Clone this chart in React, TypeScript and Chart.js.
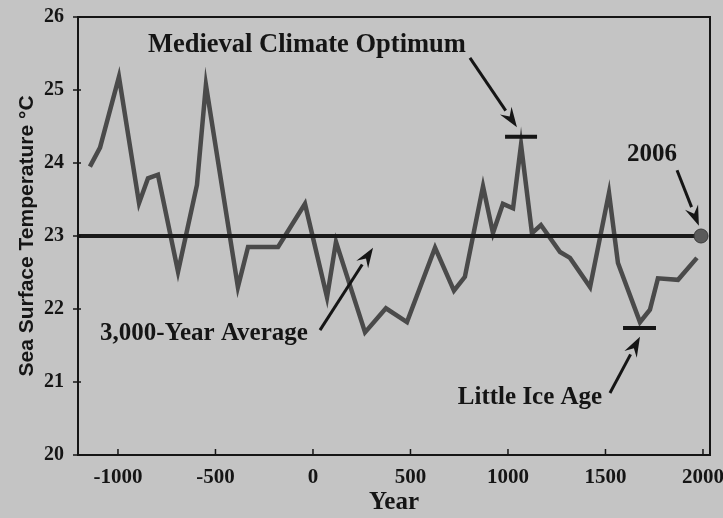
import React, { useEffect, useRef } from "react";
import { Chart, registerables } from "chart.js";

Chart.register(...registerables);

// ---- data ----
const years = [
  -1144, -1092, -995, -892, -846, -795, -692, -595, -549, -385, -333, -179, -41,
  72, 118, 267, 374, 482, 626, 723, 779, 872, 923, 974, 1026, 1067, 1123, 1169,
  1267, 1318, 1421, 1518, 1564, 1677, 1728, 1769, 1872, 1969,
];
const temps = [
  23.95, 24.21, 25.18, 23.45, 23.79, 23.84, 22.51, 23.7, 25.07, 22.3, 22.85, 22.85, 23.44,
  22.16, 22.92, 21.68, 22.01, 21.82, 22.84, 22.25, 22.44, 23.68, 23.04, 23.44, 23.38, 24.25,
  23.04, 23.15, 22.78, 22.7, 22.3, 23.59, 22.63, 21.82, 21.99, 22.42, 22.4, 22.7,
];
const averageTemp = 23.0;
const markerYear = 1990;
const markerTemp = 23.0;
const xTickValues = [-1000, -500, 0, 500, 1000, 1500, 2000];
const yTickValues = [20, 21, 22, 23, 24, 25, 26];
const xMin = -1205;
const xMax = 2036;
const yMin = 20;
const yMax = 26;

// annotation anchors in data coordinates
const medievalLabel = { text: "Medieval Climate Optimum", x: -31, y: 25.62 };
const medievalArrow = { x1: 805, y1: 25.44, x2: 1046, y2: 24.49 };
const medievalBar = { x1: 985, x2: 1149, y: 24.36 };
const yearLabel = { text: "2006", x: 1738, y: 24.11 };
const yearArrow = { x1: 1867, y1: 23.9, x2: 1979, y2: 23.14 };
const averageLabel = { text: "3,000-Year Average", x: -559, y: 21.67 };
const averageArrow = { x1: 36, y1: 21.71, x2: 308, y2: 22.84 };
const iceLabel = { text: "Little Ice Age", x: 1113, y: 20.79 };
const iceArrow = { x1: 1523, y1: 20.85, x2: 1677, y2: 21.62 };
const iceBar = { x1: 1590, x2: 1759, y: 21.74 };

const SERIF = "'Liberation Serif', 'Times New Roman', serif";
const SANS = "'Liberation Sans', Arial, sans-serif";
const INK = "#151515";

function drawArrow(ctx: CanvasRenderingContext2D, x1: number, y1: number, x2: number, y2: number) {
  const ang = Math.atan2(y2 - y1, x2 - x1);
  const headLen = 20;
  const headW = 7;
  const bx = x2 - headLen * Math.cos(ang);
  const by = y2 - headLen * Math.sin(ang);
  ctx.save();
  ctx.strokeStyle = INK;
  ctx.fillStyle = INK;
  ctx.lineWidth = 3;
  ctx.beginPath();
  ctx.moveTo(x1, y1);
  ctx.lineTo(bx, by);
  ctx.stroke();
  ctx.beginPath();
  ctx.moveTo(x2, y2);
  ctx.lineTo(bx + headW * Math.sin(ang), by - headW * Math.cos(ang));
  ctx.lineTo(bx + 0.35 * headLen * Math.cos(ang), by + 0.35 * headLen * Math.sin(ang));
  ctx.lineTo(bx - headW * Math.sin(ang), by + headW * Math.cos(ang));
  ctx.closePath();
  ctx.fill();
  ctx.restore();
}

const decorPlugin = {
  id: "decor",
  beforeDraw(chart: any) {
    const ctx = chart.ctx as CanvasRenderingContext2D;
    ctx.save();
    ctx.fillStyle = "#c4c4c4";
    ctx.fillRect(0, 0, chart.width, chart.height);
    ctx.restore();
  },
  afterDraw(chart: any) {
    const ctx = chart.ctx as CanvasRenderingContext2D;
    const { left, right, top, bottom } = chart.chartArea;
    const xs = chart.scales.x;
    const ys = chart.scales.y;
    const px = (v: number) => xs.getPixelForValue(v);
    const py = (v: number) => ys.getPixelForValue(v);
    ctx.save();
    // frame
    ctx.strokeStyle = INK;
    ctx.lineWidth = 2;
    ctx.strokeRect(left, top, right - left, bottom - top);
    // tick marks
    ctx.lineWidth = 1.5;
    ctx.beginPath();
    xTickValues.forEach((v) => {
      const x = px(v);
      ctx.moveTo(x, bottom);
      ctx.lineTo(x, bottom - 6);
    });
    yTickValues.forEach((v) => {
      const y = py(v);
      ctx.moveTo(left - 5, y);
      ctx.lineTo(left + 3, y);
    });
    ctx.stroke();

    // bars
    ctx.lineWidth = 4;
    ctx.beginPath();
    ctx.moveTo(px(medievalBar.x1), py(medievalBar.y));
    ctx.lineTo(px(medievalBar.x2), py(medievalBar.y));
    ctx.moveTo(px(iceBar.x1), py(iceBar.y));
    ctx.lineTo(px(iceBar.x2), py(iceBar.y));
    ctx.stroke();

    // arrows
    [medievalArrow, yearArrow, averageArrow, iceArrow].forEach((a) =>
      drawArrow(ctx, px(a.x1), py(a.y1), px(a.x2), py(a.y2))
    );

    // labels
    ctx.fillStyle = INK;
    ctx.textAlign = "center";
    ctx.textBaseline = "middle";
    const lbl = (l: { text: string; x: number; y: number }, size: number) => {
      ctx.font = `bold ${size}px ${SERIF}`;
      ctx.fillText(l.text, px(l.x), py(l.y));
    };
    lbl(medievalLabel, 26.5);
    lbl(yearLabel, 25);
    lbl(averageLabel, 25);
    lbl(iceLabel, 25);
    ctx.restore();
  },
};

export default function App() {
  const canvasRef = useRef<HTMLCanvasElement | null>(null);

  useEffect(() => {
    const canvas = canvasRef.current;
    if (!canvas) return;
    const chart = new Chart(canvas, {
      type: "line",
      data: {
        datasets: [
          {
            label: "Average",
            data: [
              { x: xMin, y: averageTemp },
              { x: markerYear, y: averageTemp },
            ],
            borderColor: "#1a1a1a",
            borderWidth: 4,
            pointRadius: 0,
            order: 0,
          },
          {
            label: "2006",
            data: [{ x: markerYear, y: markerTemp }],
            showLine: false,
            pointRadius: 7,
            backgroundColor: "#5a5a5a",
            borderColor: "#3a3a3a",
            borderWidth: 1,
            order: -1,
          },
          {
            label: "Sea Surface Temperature",
            data: years.map((x, i) => ({ x, y: temps[i] })),
            borderColor: "#4a4a4a",
            borderWidth: 4.5,
            pointRadius: 0,
            tension: 0,
            borderJoinStyle: "miter",
            order: 1,
          },
        ],
      },
      options: {
        responsive: false,
        animation: false,
        devicePixelRatio: 1,
        layout: { padding: { top: 17, right: 13, left: 0, bottom: 0 } },
        plugins: {
          legend: { display: false },
          tooltip: { enabled: false },
        },
        scales: {
          x: {
            type: "linear",
            min: xMin,
            max: xMax,
            afterBuildTicks: (scale: any) => {
              scale.ticks = xTickValues.map((v) => ({ value: v }));
            },
            afterFit: (scale: any) => {
              scale.height = 63;
              scale.paddingLeft = 0;
              scale.paddingRight = 0;
            },
            grid: { display: false, drawTicks: false },
            border: { display: false },
            ticks: {
              color: INK,
              font: { family: SERIF, size: 21, weight: "bold" },
              padding: 10,
              maxRotation: 0,
              autoSkip: false,
              callback: (v: any) => String(v),
            },
            title: {
              display: true,
              text: "Year",
              color: INK,
              font: { family: SERIF, size: 25, weight: "bold" },
              padding: 0,
            },
          },
          y: {
            type: "linear",
            min: yMin,
            max: yMax,
            afterBuildTicks: (scale: any) => {
              scale.ticks = yTickValues.map((v) => ({ value: v }));
            },
            afterFit: (scale: any) => {
              scale.width = 78;
              scale.paddingTop = 0;
              scale.paddingBottom = 0;
            },
            grid: { display: false, drawTicks: false },
            border: { display: false },
            ticks: {
              color: INK,
              font: { family: SERIF, size: 20, weight: "bold" },
              padding: 14,
              autoSkip: false,
              callback: (v: any) => String(v),
            },
            title: {
              display: true,
              text: "Sea Surface Temperature °C",
              color: INK,
              font: { family: SANS, size: 21, weight: "bold" },
              padding: { top: 15, bottom: 0 },
            },
          },
        },
      },
      plugins: [decorPlugin],
    } as any);
    return () => chart.destroy();
  }, []);

  return (
    <div style={{ position: "fixed", left: 0, top: 0, width: 723, height: 518, background: "#c4c4c4" }}>
      <canvas ref={canvasRef} width={723} height={518} style={{ display: "block" }} />
    </div>
  );
}
